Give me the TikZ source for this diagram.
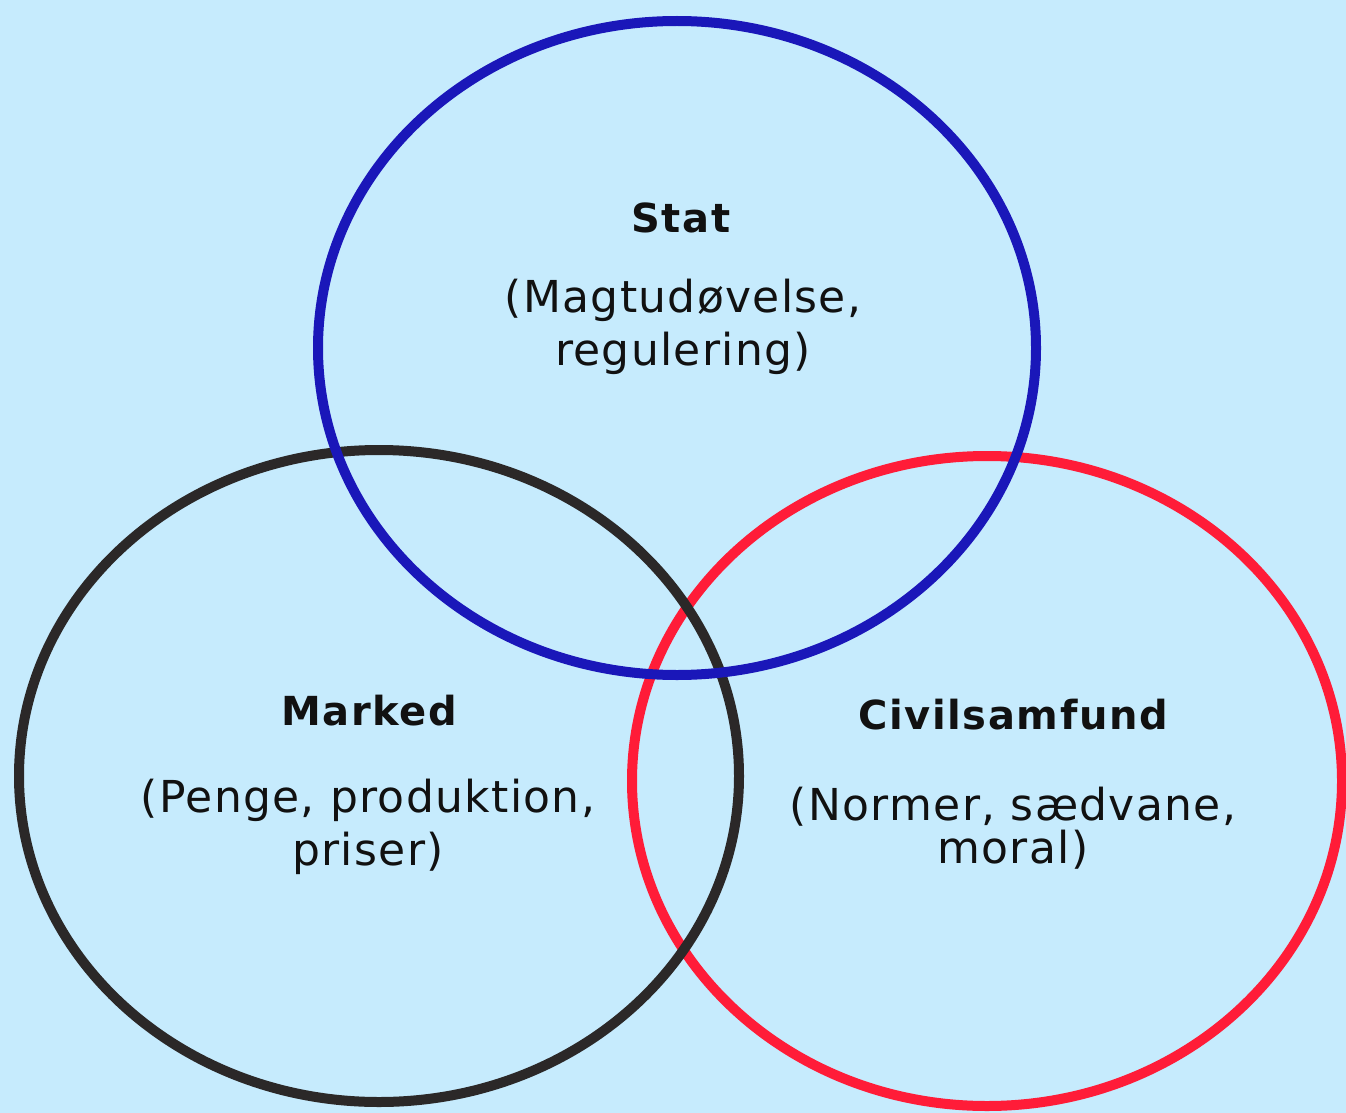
\documentclass[tikz,border=0pt]{standalone}
\usepackage{fontspec}
\setmainfont{DejaVu Sans}
\newfontfamily\titlefont[LetterSpace=4]{DejaVu Sans Bold}
\newfontfamily\subfont[LetterSpace=3]{DejaVu Sans}
\definecolor{bgblue}{RGB}{198,235,253}
\definecolor{statblue}{RGB}{26,23,185}
\definecolor{markblack}{RGB}{43,40,40}
\definecolor{civred}{RGB}{255,28,56}
\definecolor{txt}{RGB}{17,17,17}
\tikzset{
  ring/.style={line width=10pt},
  title/.style={anchor=base, inner sep=0pt, text=txt, font=\titlefont\fontsize{40}{48}\selectfont},
  sub/.style={anchor=base, inner sep=0pt, text=txt, font=\subfont\fontsize{44}{52}\selectfont}
}
\begin{document}
\begin{tikzpicture}[x=1pt,y=-1pt]
\fill[bgblue] (0,0) rectangle (1346,1113);
\useasboundingbox (0,0) rectangle (1346,1113);
\begin{scope}
\clip (0,0) rectangle (1346,1113);
\draw[ring, civred] (987,781) ellipse [x radius=355, y radius=325];
\draw[ring, markblack] (379,776) ellipse [x radius=360, y radius=326];
\draw[ring, statblue] (677,348) ellipse [x radius=359, y radius=327];
\end{scope}
\node[title] (stat) at (681,232) {Stat};
\node[sub] (stat1) at (683,312) {(Magtudøvelse,};
\node[sub] (stat2) at (683,365) {regulering)};
\node[title] (marked) at (369,725) {Marked};
\node[sub] (marked1) at (368,812) {(Penge, produktion,};
\node[sub] (marked2) at (368,865) {priser)};
\node[title] (civil) at (1013,729) {Civilsamfund};
\node[sub] (civil1) at (1013,820) {(Normer, sædvane,};
\node[sub] (civil2) at (1013,863) {moral)};
\end{tikzpicture}
\end{document}
